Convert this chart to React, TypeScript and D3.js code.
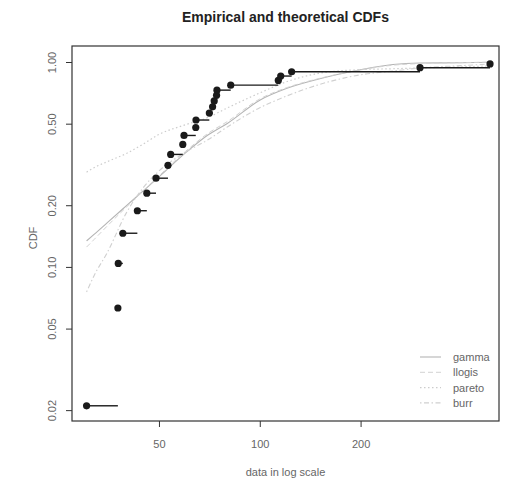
import React, { useEffect, useRef } from 'react';
import * as d3 from 'd3';

// empirical data
const ecdfX = [30.4, 37.7, 37.8, 39.0, 43.1, 46.0, 49.0, 53.2, 54.2, 58.9, 59.4, 64.4, 64.5, 70.7, 72.3, 73.1, 74.3, 74.5, 81.9, 113.6, 115.5, 124.5, 300.9, 487];
const ecdfP = [0.021, 0.063, 0.104, 0.146, 0.188, 0.229, 0.271, 0.313, 0.354, 0.396, 0.438, 0.479, 0.521, 0.563, 0.604, 0.646, 0.688, 0.729, 0.771, 0.813, 0.854, 0.896, 0.938, 0.979];

// fitted CDFs sampled at these x values
const curveX = [30.4, 32, 35, 40, 45, 50, 60, 70, 80, 100, 120, 150, 200, 250, 300, 400, 487];
const gammaP = [0.134, 0.144, 0.164, 0.199, 0.236, 0.275, 0.36, 0.44, 0.501, 0.651, 0.742, 0.826, 0.917, 0.973, 0.989, 0.992, 0.997];
const llogisP = [0.125, 0.136, 0.158, 0.196, 0.236, 0.278, 0.366, 0.448, 0.512, 0.66, 0.748, 0.83, 0.915, 0.965, 0.982, 0.993, 0.998];
const paretoP = [0.29, 0.305, 0.326, 0.358, 0.399, 0.443, 0.494, 0.536, 0.597, 0.706, 0.8, 0.88, 0.918, 0.927, 0.935, 0.947, 0.956];
const burrP = [0.0755, 0.0906, 0.117, 0.184, 0.245, 0.294, 0.363, 0.417, 0.482, 0.598, 0.681, 0.775, 0.866, 0.903, 0.935, 0.96, 0.978];

const legendText = ['gamma', 'llogis', 'pareto', 'burr'];
const xTicks = [50, 100, 200];
const yTicks = [0.02, 0.05, 0.1, 0.2, 0.5, 1];

const App = () => {
    const svgRef = useRef(null);

    useEffect(() => {
        if (!svgRef.current) return;
        const svg = d3.select(svgRef.current);
        svg.selectAll('*').remove();

        const font = '"Liberation Sans", Arial, sans-serif';
        const box = { left: 72, right: 499, top: 46, bottom: 421 };

        const x = d3.scaleLog().domain([27.5, 518]).range([box.left, box.right]);
        const y = d3.scaleLog().domain([0.0177, 1.197]).range([box.bottom, box.top]);

        svg.append('rect').attr('width', 509).attr('height', 486).attr('fill', '#fff');

        // Title
        svg.append('text')
            .attr('x', (box.left + box.right) / 2)
            .attr('y', 22)
            .attr('text-anchor', 'middle')
            .attr('font-family', font)
            .attr('font-weight', 'bold')
            .attr('font-size', '14px')
            .attr('fill', '#222')
            .text('Empirical and theoretical CDFs');

        // fitted curves (faint in the scan)
        const fits = [
            { p: gammaP, color: '#b4b4b4', dash: null, w: 1.1 },
            { p: llogisP, color: '#d2d2d2', dash: '5,3', w: 1 },
            { p: paretoP, color: '#cccccc', dash: '1.5,2.5', w: 1.2 },
            { p: burrP, color: '#d0d0d0', dash: '1.5,2.5,5,2.5', w: 1.1 },
        ];
        const line = d3.line<number>()
            .x((d, i) => x(curveX[i]))
            .y(d => y(d))
            .curve(d3.curveMonotoneX);

        fits.forEach(f => {
            svg.append('path')
                .datum(f.p)
                .attr('d', line)
                .attr('fill', 'none')
                .attr('stroke', f.color)
                .attr('stroke-width', f.w)
                .attr('stroke-dasharray', f.dash);
        });

        // ECDF steps
        ecdfX.forEach((v, i) => {
            if (i < ecdfX.length - 1) {
                svg.append('line')
                    .attr('x1', x(v))
                    .attr('x2', x(ecdfX[i + 1]))
                    .attr('y1', y(ecdfP[i]))
                    .attr('y2', y(ecdfP[i]))
                    .attr('stroke', '#1a1a1a')
                    .attr('stroke-width', 1.4);
            }
        });
        svg.append('g').selectAll('circle')
            .data(ecdfX)
            .join('circle')
            .attr('cx', d => x(d))
            .attr('cy', (d, i) => y(ecdfP[i]))
            .attr('r', 3.6)
            .attr('fill', '#1a1a1a');

        // Axes
        const yAxis = d3.axisLeft(y).tickValues(yTicks).tickSize(6).tickFormat(d3.format('.2f'));
        const gy = svg.append('g').attr('transform', `translate(${box.left},0)`).call(yAxis);
        gy.select('.domain').remove();
        gy.selectAll('line').attr('stroke', '#333');
        gy.selectAll('text')
            .attr('x', 0)
            .attr('dy', 0)
            .attr('transform', 'translate(-16,0) rotate(-90)')
            .attr('text-anchor', 'middle')
            .attr('font-family', font)
            .attr('font-size', '11px')
            .attr('fill', '#666');

        const xAxis = d3.axisBottom(x).tickValues(xTicks).tickSize(6).tickFormat(d3.format('d'));
        const gx = svg.append('g').attr('transform', `translate(0,${box.bottom})`).call(xAxis);
        gx.select('.domain').remove();
        gx.selectAll('line').attr('stroke', '#333');
        gx.selectAll('text')
            .attr('y', 27)
            .attr('dy', 0)
            .attr('font-family', font)
            .attr('font-size', '11px')
            .attr('fill', '#666');

        // Frame
        svg.append('rect')
            .attr('x', box.left)
            .attr('y', box.top)
            .attr('width', box.right - box.left)
            .attr('height', box.bottom - box.top)
            .attr('fill', 'none')
            .attr('stroke', '#333')
            .attr('stroke-width', 1.2);

        // axis titles
        svg.append('text')
            .attr('x', (box.left + box.right) / 2)
            .attr('y', 476)
            .attr('text-anchor', 'middle')
            .attr('font-family', font)
            .attr('font-size', '11px')
            .attr('fill', '#666')
            .text('data in log scale');

        svg.append('text')
            .attr('transform', `translate(37,238) rotate(-90)`)
            .attr('text-anchor', 'middle')
            .attr('font-family', font)
            .attr('font-size', '11px')
            .attr('fill', '#666')
            .text('CDF');

        // Legend
        legendText.forEach((t, i) => {
            const ly = 357 + i * 15.3;
            svg.append('line')
                .attr('x1', 420)
                .attr('x2', 441)
                .attr('y1', ly)
                .attr('y2', ly)
                .attr('stroke', fits[i].color)
                .attr('stroke-width', fits[i].w)
                .attr('stroke-dasharray', fits[i].dash);
            svg.append('text')
                .attr('x', 453)
                .attr('y', ly + 4)
                .attr('font-family', font)
                .attr('font-size', '11px')
                .attr('fill', '#666')
                .text(t);
        });
    }, []);

    return (
        <svg
            ref={svgRef}
            width={509}
            height={486}
            style={{ position: 'absolute', left: 0, top: 0, display: 'block' }}
        />
    );
};

export default App;
